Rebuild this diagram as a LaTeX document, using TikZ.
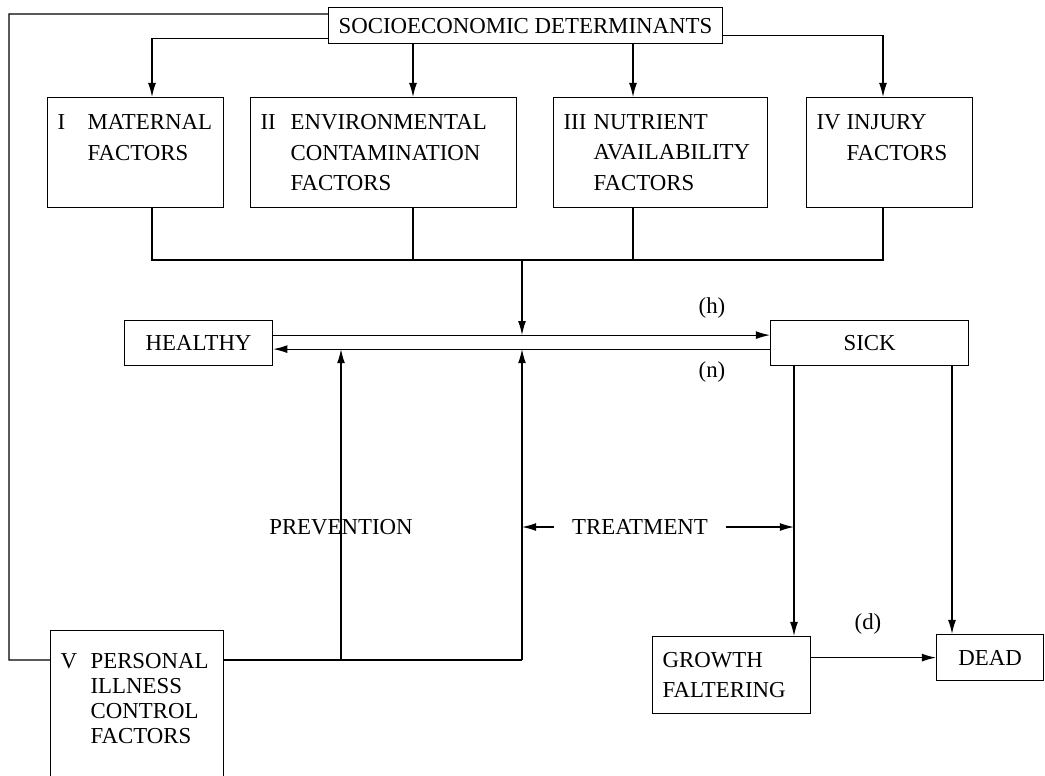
\documentclass[tikz,border=0pt]{standalone}
\usepackage{fontspec}
\setmainfont{Liberation Serif}
\usepackage{tikz}
\usetikzlibrary{arrows.meta, calc}
\newcommand{\rn}[1]{\makebox[0.6cm][l]{#1}}
\newcommand{\hind}{\hspace*{0.6cm}}

\begin{document}
\begin{tikzpicture}[
    x=0.02cm, y=-0.02cm,
    every node/.style={font=\fontsize{13}{17.5}\selectfont},
    box/.style={
        rectangle, draw, line width=0.7pt, anchor=north west,
        inner xsep=0.2cm, inner ysep=0pt
    },
    factor/.style={box, text width=#1, align=left, minimum height=2.2cm},
    stbox/.style={box, minimum width=#1, minimum height=0.9cm, align=center},
    conn/.style={line width=0.7pt},
    arr/.style={line width=0.7pt, -{Latex[length=8pt,width=4.5pt]}},
    lbl/.style={inner sep=1pt}
]
\useasboundingbox (0,0) rectangle (1045,775);

% Determinants
\node[box, minimum width=7.76cm, minimum height=0.72cm] (socio) at (328,7) {SOCIOECONOMIC DETERMINANTS};

% Factor groups
\node[factor=3.12cm] (mat) at (47,97) {\rn{I}MATERNAL\\\hind FACTORS\\\mbox{}};
\node[factor=4.92cm] (env) at (250,97) {\rn{II}ENVIRONMENTAL\\\hind CONTAMINATION\\\hind FACTORS};
\node[factor=3.88cm] (nut) at (553,97) {\rn{III}NUTRIENT\\\hind AVAILABILITY\\\hind FACTORS};
\node[factor=2.92cm] (inj) at (806,97) {\rn{IV}INJURY\\\hind FACTORS\\\mbox{}};

% States
\node[stbox=2.96cm] (healthy) at (124,320) {HEALTHY};
\node[stbox=3.96cm] (sick) at (770,320) {SICK};
\node[box, text width=2.76cm, align=left, minimum height=1.54cm] (growth) at (652,636) {GROWTH\\FALTERING};
\node[stbox=2.14cm, minimum height=0.92cm] (dead) at (936,634) {DEAD};
\node[box, text width=3.06cm, align=left, minimum height=3.7cm, font=\fontsize{13}{14.2}\selectfont] (pers) at (50,630) {\rn{V}PERSONAL\\\hind ILLNESS\\\hind CONTROL\\\hind FACTORS\\\mbox{}\\\mbox{}};

% Labels
\node[lbl] (hlab) at (712,308) {(h)};
\node[lbl] (nlab) at (712,372) {(n)};
\node[lbl] (dlab) at (868,624) {(d)};
\node[lbl] (prev) at (341,527) {PREVENTION};
\node[inner xsep=0.35cm] (treat) at (640,527) {TREATMENT};

% Bend points
\coordinate (cI) at (152,260);
\coordinate (cII) at (413,260);
\coordinate (cIII) at (633,260);
\coordinate (cIV) at (883,260);
\coordinate (jn) at (522,260);
\coordinate (tl) at (9,14);
\coordinate (bl) at (9,660);
\coordinate (pv) at (341,660);
\coordinate (tr) at (522,660);
\coordinate (gx) at (794,0);
\coordinate (dx) at (952,0);
\coordinate (hu) at ([yshift=0.16cm]healthy.east);
\coordinate (hd) at ([yshift=-0.12cm]healthy.east);

% Determinants to factors
\draw[conn] ([yshift=-0.14cm]socio.north west) -- (tl) -- (bl) -- (bl -| pers.west);
\draw[arr] ([yshift=0.12cm]socio.south west) -| (mat.north -| cI);
\draw[arr] (socio.south -| cII) -- (env.north -| cII);
\draw[arr] (socio.south -| cIII) -- (nut.north -| cIII);
\draw[arr] ([yshift=0.18cm]socio.south east) -| (inj.north -| cIV);

% Factors to transition
\draw[conn] (mat.south -| cI) -- (cI) -- (cIV) -- (inj.south -| cIV);
\draw[conn] (env.south -| cII) -- (cII);
\draw[conn] (nut.south -| cIII) -- (cIII);
\draw[arr] (jn) -- (jn |- hu);

% Healthy and sick
\draw[arr] (hu) -- (hu -| sick.west);
\draw[arr] (hd -| sick.west) -- (hd);

% Prevention and treatment
\draw[conn] (pers.east |- pv) -- (tr);
\draw[arr] (pv) -- (pv |- hd);
\draw[arr] (tr) -- (tr |- hd);
\draw[arr] (treat.west) -- (treat.west -| tr);
\draw[arr] (treat.east) -- (treat.east -| gx);

% Outcomes
\draw[arr] (sick.south -| gx) -- (growth.north -| gx);
\draw[arr] (sick.south -| dx) -- (dead.north -| dx);
\draw[arr] (growth.east |- dead.west) -- (dead.west);

\end{tikzpicture}
\end{document}
